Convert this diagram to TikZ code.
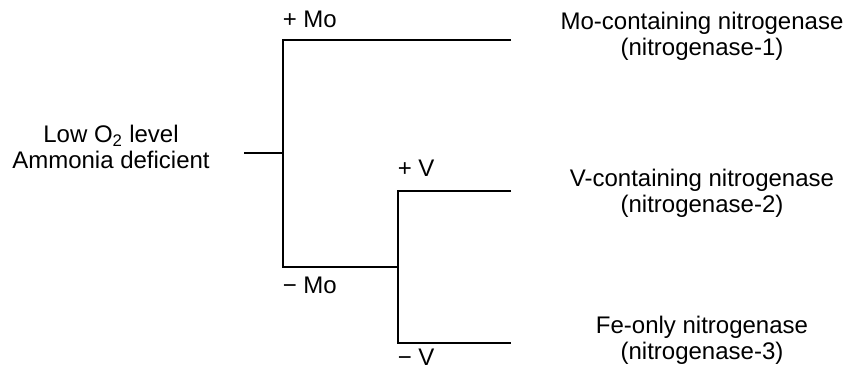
\documentclass[tikz,border=0pt]{standalone}
\usepackage{fontspec}
\setmainfont{Liberation Sans}
\begin{document}
\begin{tikzpicture}[x=1pt,y=-1pt,line width=1.6pt,
  lbl/.style={font=\fontsize{24}{26}\selectfont,inner sep=0pt},
  grp/.style={lbl,align=center}]%
\useasboundingbox (0,0) rectangle (847,371);
% branch points of the tree
\coordinate (stub) at (244,153);
\coordinate (fork) at (283,153);
\coordinate (moup) at (283,40);
\coordinate (moend) at (511,40);
\coordinate (modown) at (283,267);
\coordinate (vfork) at (398,267);
\coordinate (vup) at (398,191);
\coordinate (vend) at (511,191);
\coordinate (vdown) at (398,343);
\coordinate (feend) at (511,343);
\draw (stub) -- (fork);
\draw (moend) -- (moup) -- (modown) -- (vfork);
\draw (vend) -- (vup) -- (vdown) -- (feend);
\node[grp,anchor=base] (cond) at (111,169) {Low O\textsubscript{2} level\\Ammonia deficient};
\node[lbl,anchor=base west] (plusmo) at (282,28) {+ Mo};
\node[lbl,anchor=base west] (minusmo) at (282,294) {− Mo};
\node[lbl,anchor=base west] (plusv) at (397,177) {+ V};
\node[lbl,anchor=base west] (minusv) at (397,366) {− V};
\node[grp,anchor=base] (nif) at (702,56) {Mo-containing nitrogenase\\(nitrogenase-1)};
\node[grp,anchor=base] (vnf) at (702,213) {V-containing nitrogenase\\(nitrogenase-2)};
\node[grp,anchor=base] (anf) at (702,360) {Fe-only nitrogenase\\(nitrogenase-3)};
\end{tikzpicture}
\end{document}
